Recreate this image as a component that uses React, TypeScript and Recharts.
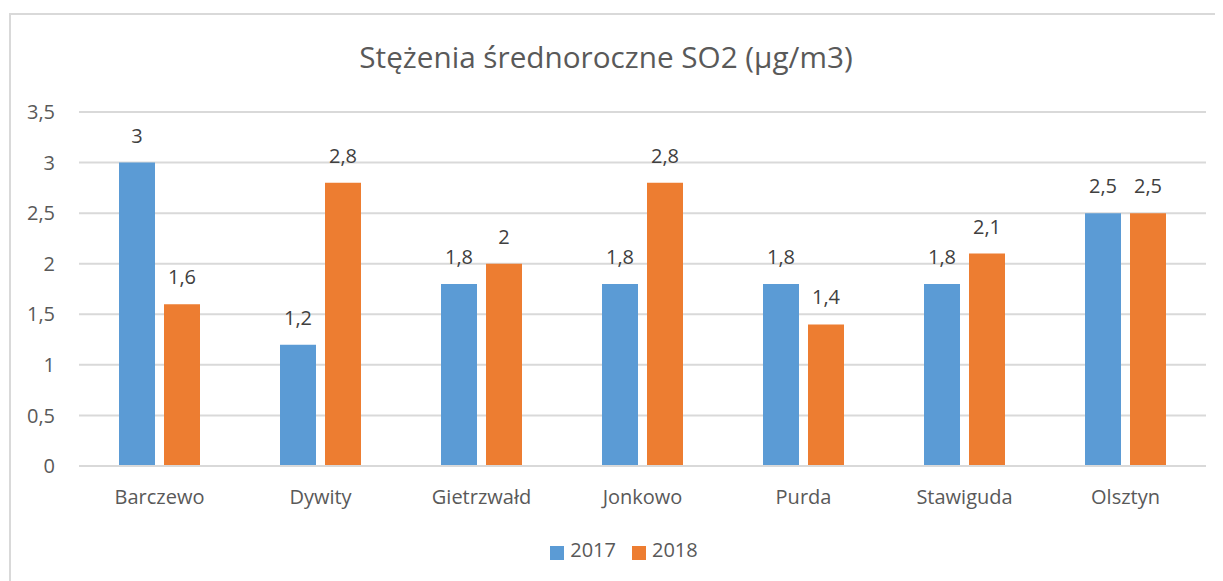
import React from "react";
import {
  BarChart, Bar, XAxis, YAxis, CartesianGrid, Legend, LabelList,
} from "recharts";

const gminy = ["Barczewo", "Dywity", "Gietrzwałd", "Jonkowo", "Purda", "Stawiguda", "Olsztyn"];
const so2_2017 = [3, 1.2, 1.8, 1.8, 1.8, 1.8, 2.5];
const so2_2018 = [1.6, 2.8, 2, 2.8, 1.4, 2.1, 2.5];
const yTicks = [0, 0.5, 1, 1.5, 2, 2.5, 3, 3.5];

const FONT = "'Open Sans', sans-serif";
const TXT = "#595959";
const GRID = "#d9d9d9";

const data = gminy.map((name, i) => ({ name, y2017: so2_2017[i], y2018: so2_2018[i] }));

const fmt = (v: number | string) => String(v).replace(".", ",");

export default function App() {
  return (
    <div style={{ position: "relative", width: 1215, height: 573, fontFamily: FONT }}>
      <div
        style={{
          position: "absolute", left: 1, top: 5, right: -10, bottom: -10,
          borderLeft: `2px solid ${GRID}`, borderTop: `2px solid ${GRID}`,
        }}
      />
      <div
        style={{
          position: "absolute", left: 0, width: 1196, top: 29, textAlign: "center",
          fontSize: 29.7, color: TXT, lineHeight: "40px",
        }}
      >
        Stężenia średnoroczne SO2 (µg/m3)
      </div>
      <BarChart
        width={1215}
        height={573}
        data={data}
        margin={{ top: 104, right: 17, left: 0, bottom: 58 }}
        barGap={9}
        barSize={36}
        style={{ position: "absolute", left: 0, top: 0 }}
      >
        <CartesianGrid vertical={false} stroke={GRID} strokeWidth={2} />
        <XAxis
          dataKey="name"
          axisLine={{ stroke: GRID, strokeWidth: 2 }}
          tickLine={false}
          tickSize={0}
          tickMargin={24}
          tick={{ fill: TXT, fontSize: 20, fontFamily: FONT }}
        />
        <YAxis
          width={71}
          domain={[0, 3.5]}
          ticks={yTicks}
          axisLine={false}
          tickLine={false}
          tickSize={0}
          tickMargin={24}
          tickFormatter={fmt}
          tick={{ fill: TXT, fontSize: 20, fontFamily: FONT }}
        />
        <Legend
          verticalAlign="bottom"
          iconType="square"
          iconSize={14}
          formatter={(v) => (
            <span style={{ color: TXT, fontSize: 20, fontFamily: FONT, marginLeft: 2, marginRight: 6 }}>{v}</span>
          )}
          wrapperStyle={{ left: 44, width: 1160, top: 528 }}
        />
        <Bar dataKey="y2017" name="2017" fill="#5b9bd5" isAnimationActive={false}>
          <LabelList dataKey="y2017" position="top" offset={20} formatter={fmt}
            style={{ fill: "#404040", fontSize: 20, fontFamily: FONT }} />
        </Bar>
        <Bar dataKey="y2018" name="2018" fill="#ed7d31" isAnimationActive={false}>
          <LabelList dataKey="y2018" position="top" offset={20} formatter={fmt}
            style={{ fill: "#404040", fontSize: 20, fontFamily: FONT }} />
        </Bar>
      </BarChart>
    </div>
  );
}
